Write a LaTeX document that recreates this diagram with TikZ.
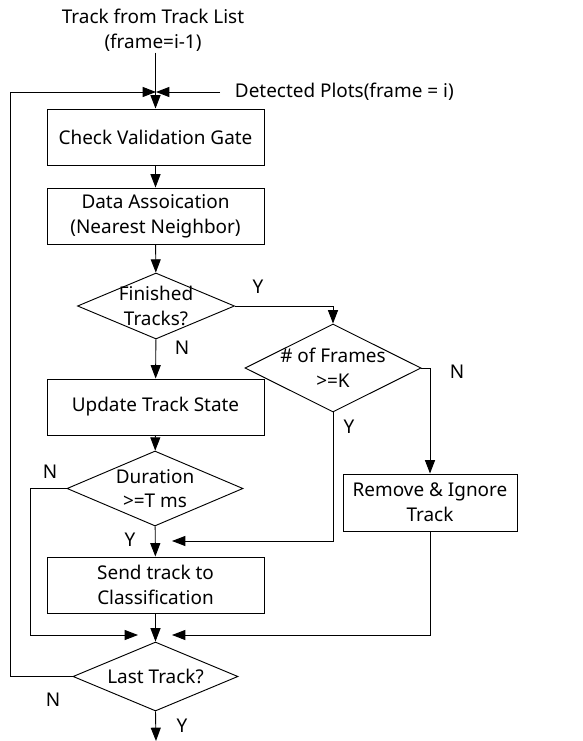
\documentclass[tikz,border=0pt]{standalone}
\usepackage{fontspec}
\setmainfont{Noto Sans}
\usetikzlibrary{positioning, arrows.meta, shapes.geometric}
\tikzset{
    procbox/.style={rectangle, draw=black, line width=0.7pt, align=center,
        minimum width=162.75pt, minimum height=42pt, inner sep=1pt},
    decision/.style={diamond, draw=black, line width=0.7pt, align=center, inner sep=0pt},
    flow/.style={->, line width=0.7pt},
    yn/.style={inner sep=0pt}
}

\begin{document}
\begin{tikzpicture}[x=0.75pt, y=-0.75pt, >={Triangle[length=10pt, width=7.5pt]},
    every node/.style={font=\fontsize{14.2}{18.5}\selectfont}]
  \useasboundingbox (0,0) rectangle (582,741);

  \node[align=center, inner sep=1pt] (src) at (153,30) {Track from Track List\\(frame=i-1)};
  \node[anchor=west, inner xsep=11pt, inner ysep=0pt] (plots) at (220,92) {Detected Plots(frame = i)};
  \coordinate (merge) at (156,92);

  \node[procbox] (gate)   at (155.5,137) {Check Validation Gate};
  \node[procbox] (assoc)  at (155.5,216) {Data Assoication\\(Nearest Neighbor)};
  \node[decision, minimum width=117.75pt, minimum height=49.5pt, aspect=2.4, inner sep=-3pt]
      (finished) at (156,306) {Finished\\Tracks?};
  \node[decision, minimum width=132pt, minimum height=66pt, aspect=2, inner sep=-2.5pt]
      (frames) at (333,368) {\# of Frames\\>=K};
  \node[procbox] (update) at (155.5,407) {Update Track State};
  \node[decision, minimum width=132pt, minimum height=56.25pt, aspect=2.3]
      (duration) at (155,488.5) {Duration\\>=T ms};
  \node[procbox, minimum width=130.5pt, minimum height=42.75pt] (remove) at (430,502.5) {Remove \& Ignore\\Track};
  \node[procbox] (send)   at (155.5,585) {Send track to\\Classification};
  \node[decision, minimum width=123.75pt, minimum height=51.75pt, aspect=2.4]
      (last) at (155.5,676.5) {Last Track?};

  \coordinate (inY)   at (172,541);
  \coordinate (skipL) at (30,635);
  \coordinate (inN)   at (138,635);
  \coordinate (inR)   at (172,635);
  \coordinate (loopL) at (10,92);
  \coordinate (exit)  at (156,741);

  \draw[flow] (gate.north |- src.south) -- (gate.north);
  \draw[flow] (plots.west) -- (merge);
  \draw[flow] (last.west) -| (loopL) -- (merge);
  \draw[flow] (gate) -- (assoc);
  \draw[flow] (assoc) -- (finished);
  \draw[flow] (finished) -- (update);
  \draw[flow] (finished.east) -| (frames.north);
  \draw[flow] (frames.east) -| (remove.north);
  \draw[flow] (update) -- (duration);
  \draw[flow] (duration) -- (send);
  \draw[flow] (frames.south) |- (inY);
  \draw[flow] (duration.west) -| (skipL) -- (inN);
  \draw[flow] (remove.south) |- (inR);
  \draw[flow] (send) -- (last);
  \draw[flow] (last.south) -- (exit);

  \node[yn] (finY)  at (258,287) {Y};
  \node[yn] (finN)  at (182,348) {N};
  \node[yn] (frmN)  at (457,372) {N};
  \node[yn] (frmY)  at (349,427) {Y};
  \node[yn] (durN)  at (50,472)  {N};
  \node[yn] (durY)  at (130,540) {Y};
  \node[yn] (lastN) at (53,700)  {N};
  \node[yn] (lastY) at (182,726) {Y};
\end{tikzpicture}
\end{document}
